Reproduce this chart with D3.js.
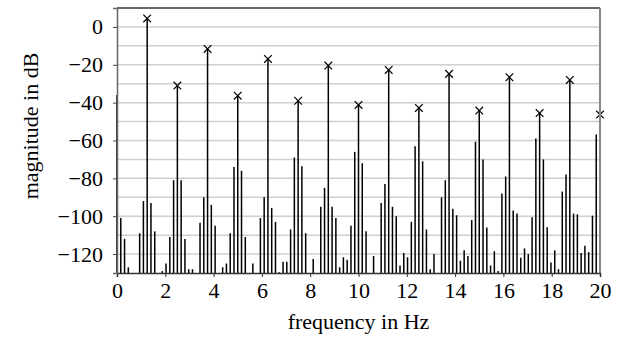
<!DOCTYPE html>
<html>
<head>
<meta charset="utf-8">
<script src="https://cdn.jsdelivr.net/npm/d3@7"></script>
<style>
  body { margin: 0; background: #fff; }
  svg { display: block; font-family: "Liberation Serif", "Times New Roman", serif; }
</style>
</head>
<body>
<svg id="chart" width="624" height="338"></svg>
<script>
// spectrum bins (Hz) and magnitudes (dB)
const freqHz = [
  0, 0.156, 0.313, 0.469, 0.938, 1.094, 1.25, 1.406, 1.563, 1.875,
  2.031, 2.188, 2.344, 2.5, 2.656, 2.813, 2.969, 3.125, 3.438, 3.594,
  3.75, 3.906, 4.063, 4.375, 4.531, 4.688, 4.844, 5.0, 5.156, 5.313,
  5.625, 5.938, 6.094, 6.25, 6.406, 6.563, 6.719, 6.875, 7.031, 7.188,
  7.344, 7.5, 7.656, 7.813, 8.125, 8.438, 8.594, 8.75, 8.906, 9.063,
  9.219, 9.375, 9.531, 9.688, 9.844, 10.0, 10.156, 10.313, 10.625, 10.938,
  11.094, 11.25, 11.406, 11.563, 11.719, 11.875, 12.031, 12.188, 12.344, 12.5,
  12.656, 12.813, 12.969, 13.125, 13.438, 13.594, 13.75, 13.906, 14.063, 14.219,
  14.375, 14.531, 14.688, 14.844, 15.0, 15.156, 15.313, 15.469, 15.625, 15.781,
  15.938, 16.094, 16.25, 16.406, 16.563, 16.719, 16.875, 17.031, 17.188, 17.344,
  17.5, 17.656, 17.813, 17.969, 18.125, 18.281, 18.438, 18.594, 18.75, 18.906,
  19.063, 19.219, 19.375, 19.531, 19.688, 19.844, 20.0
];
const magDb = [
  -36, -101, -112, -127, -109, -92, 4.5, -93, -108, -129,
  -125, -111, -81, -31, -81, -112, -128, -128, -103.5, -90,
  -11.6, -94, -105, -127, -125, -109, -74, -36.3, -76, -111,
  -125, -101, -90, -16.9, -95.6, -103, -129.6, -124, -124, -107,
  -69, -39, -73.6, -109, -122.6, -95, -85, -20.4, -95, -101,
  -127, -121.7, -123, -105, -66, -41.2, -72, -108, -121, -93,
  -83, -22.7, -95, -100, -126, -119.4, -121.7, -103, -63, -42.8,
  -71, -107, -128, -120, -90, -81, -24.8, -96, -99.5, -123.5,
  -118, -121, -102, -60.6, -44.2, -70, -106, -126, -118.5, -129,
  -88, -79, -26.6, -97, -98.6, -122, -117, -120, -100.5, -59,
  -45.5, -70, -105.8, -124.4, -118, -128, -87, -78, -28, -98.6,
  -99, -119.4, -115.6, -119, -99.7, -56.8, -46.3
];
// harmonics marked with a cross
const harmonicHz = [1.25, 2.5, 3.75, 5.0, 6.25, 7.5, 8.75, 10.0, 11.25, 12.5, 13.75, 15.0, 16.25, 17.5, 18.75, 20.0];
const xTicks = [0, 2, 4, 6, 8, 10, 12, 14, 16, 18, 20];
const yTicks = [0, -20, -40, -60, -80, -100, -120];
const gridDb = [0, -10, -20, -30, -40, -50, -60, -70, -80, -90, -100, -110, -120];

const width = 624, height = 338;
const margin = { top: 8, right: 24, bottom: 65, left: 117 };
const innerWidth = width - margin.left - margin.right;
const innerHeight = height - margin.top - margin.bottom;

const svg = d3.select('#chart');
const g = svg.append('g').attr('transform', `translate(${margin.left},${margin.top})`);

const x = d3.scaleLinear().domain([0, 20]).range([0, innerWidth]);
const y = d3.scaleLinear().domain([-130, 10]).range([innerHeight, 0]);

const stems = freqHz.map((f, i) => ({ f, v: magDb[i] }));

// Grid lines
g.append('g')
  .selectAll('line')
  .data(gridDb)
  .join('line')
  .attr('x1', 0).attr('x2', innerWidth)
  .attr('y1', d => y(d)).attr('y2', d => y(d))
  .attr('stroke', '#cfcfcf')
  .attr('stroke-width', 1.5);

// Stems
g.append('g')
  .selectAll('line')
  .data(stems)
  .join('line')
  .attr('x1', d => x(d.f)).attr('x2', d => x(d.f))
  .attr('y1', y(-130)).attr('y2', d => y(d.v))
  .attr('stroke', '#000')
  .attr('stroke-width', 1.5);

// Cross markers on harmonics
const peaks = stems.filter(d => harmonicHz.includes(d.f));
g.append('g')
  .selectAll('path')
  .data(peaks)
  .join('path')
  .attr('transform', d => `translate(${x(d.f)},${y(d.v)})`)
  .attr('d', d3.symbol(d3.symbolX, 40))
  .attr('fill', 'none')
  .attr('stroke', '#000')
  .attr('stroke-width', 1.2);

// Frame: top and right
g.append('line')
  .attr('x1', 0).attr('x2', innerWidth).attr('y1', 0).attr('y2', 0)
  .attr('stroke', '#333').attr('stroke-width', 1.5);
g.append('line')
  .attr('x1', innerWidth).attr('x2', innerWidth).attr('y1', 0).attr('y2', innerHeight)
  .attr('stroke', '#888').attr('stroke-width', 2);

// X axis
g.append('g')
  .attr('transform', `translate(0,${innerHeight})`)
  .call(d3.axisBottom(x).tickValues(xTicks).tickSize(4).tickPadding(5).tickFormat(d3.format('d')))
  .call(a => a.select('.domain').attr('stroke', '#333').attr('stroke-width', 1.5))
  .call(a => a.selectAll('line').attr('stroke', '#333'))
  .selectAll('text')
  .attr('fill', '#000')
  .attr('font-size', '22px')
  .attr('font-family', '"Liberation Serif", serif');

// Y axis
g.append('g')
  .call(d3.axisLeft(y).tickValues(yTicks).tickSize(4).tickPadding(10)
    .tickFormat(d => d < 0 ? '\u2212' + Math.abs(d) : String(d)))
  .call(a => a.select('.domain').attr('stroke', '#666').attr('stroke-width', 1.5))
  .call(a => a.selectAll('line').attr('stroke', '#444'))
  .selectAll('text')
  .attr('fill', '#000')
  .attr('font-size', '22px')
  .attr('font-family', '"Liberation Serif", serif');

// Axis titles
svg.append('text')
  .attr('x', margin.left + innerWidth / 2)
  .attr('y', 329)
  .attr('text-anchor', 'middle')
  .attr('font-size', '22px')
  .text('frequency in Hz');

svg.append('text')
  .attr('transform', 'translate(38,126) rotate(-90)')
  .attr('text-anchor', 'middle')
  .attr('font-size', '22px')
  .text('magnitude in dB');
</script>
</body>
</html>
